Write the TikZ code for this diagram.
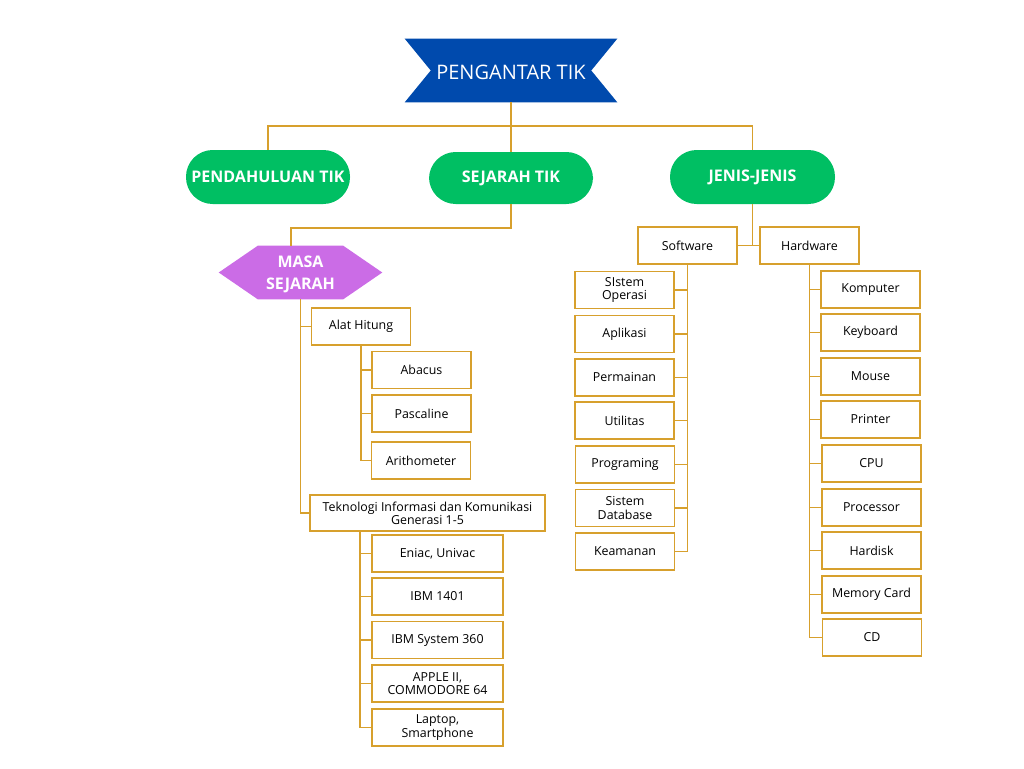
\documentclass[tikz,border=0pt]{standalone}
\usepackage{fontspec}
\setmainfont{Open Sans}
\usetikzlibrary{calc}
\definecolor{gold}{RGB}{215,160,45}
\definecolor{ttlblue}{RGB}{0,74,173}
\definecolor{pillgreen}{RGB}{0,191,99}
\definecolor{hexpurple}{RGB}{203,108,230}
\tikzset{
  conn/.style={draw=gold, line width=1.1pt},
  box/.style={draw=gold, line width=1.1pt, fill=white, rectangle, inner sep=1pt,
    minimum width=99*0.75pt, minimum height=37*0.75pt, align=center,
    font=\fontsize{9.3}{10}\selectfont},
  pill/.style={fill=pillgreen, rectangle, rounded corners=20pt, text=white,
    minimum width=164*0.75pt, minimum height=54*0.75pt,
    font=\fontsize{12}{14}\selectfont\bfseries},
}
\begin{document}
\begin{tikzpicture}[x=0.75pt,y=-0.75pt]
\useasboundingbox (0,0) rectangle (1024,768);
% title
\node[minimum width=212*0.75pt, minimum height=63*0.75pt, inner sep=0pt] (title) at (511,70.5) {};
\fill[ttlblue] (title.north west) -- (title.north east) -- ($(title.east)+(-26,0)$) -- (title.south east) -- (title.south west) -- ($(title.west)+(26,0)$) -- cycle;
\node[text=white, font=\fontsize{15}{17}\selectfont] (titletext) at (511,72) {PENGANTAR TIK};
% pills
\node[pill] (pend) at (268,177) {PENDAHULUAN TIK};
\node[pill, minimum height=52*0.75pt] (sej) at (511,178) {SEJARAH TIK};
\node[pill, minimum width=165*0.75pt] (jenis) at (752.5,177) {JENIS-JENIS};
\coordinate (hub) at (511,126);
\draw[conn] (title.south) -- (hub);
\draw[conn] (hub) -| (pend.north);
\draw[conn] (hub) -| (jenis.north);
\draw[conn] (hub) -- (sej.north);
% masa sejarah
\node[minimum width=163*0.75pt, minimum height=53*0.75pt, inner sep=0pt] (masa) at (300.5,272.5) {};
\fill[hexpurple] (masa.west) -- ($(masa.north west)+(39,0)$) -- ($(masa.north east)+(-39,0)$) -- (masa.east) -- ($(masa.south east)+(-39,0)$) -- ($(masa.south west)+(39,0)$) -- cycle;
\node[text=white, align=center, font=\fontsize{12}{16.5}\selectfont\bfseries] (masatext) at (300.5,274) {MASA\\SEJARAH};
\coordinate (mj) at (291,228);
\draw[conn] (sej.south) |- (mj) -- (mj |- masa.north);
% alat hitung
\node[box] (alat) at (361,326.5) {Alat Hitung};
\node[box] (abacus) at (421.5,370) {Abacus};
\node[box] (pascal) at (421.5,413.5) {Pascaline};
\node[box] (arith) at (421,460.5) {Arithometer};
\node[box, minimum width=235*0.75pt, minimum height=36*0.75pt] (tik) at (427.5,513) {Teknologi Informasi dan Komunikasi\\Generasi 1-5};
\draw[conn] (masa.south) |- (alat.west);
\draw[conn] (masa.south) |- (tik.west);
\draw[conn] (alat.south) |- (abacus.west);
\draw[conn] (alat.south) |- (pascal.west);
\draw[conn] (alat.south) |- (arith.west);
\node[box, minimum width=131*0.75pt] (eniac) at (437.5,553.5) {Eniac, Univac};
\node[box, minimum width=131*0.75pt] (ibm1) at (437.5,596.5) {IBM 1401};
\node[box, minimum width=131*0.75pt] (ibm3) at (437.5,640) {IBM System 360};
\node[box, minimum width=131*0.75pt] (apple) at (437.5,683.5) {APPLE II,\\COMMODORE 64};
\node[box, minimum width=131*0.75pt] (laptop) at (437.5,727.5) {Laptop,\\Smartphone};
\coordinate (tkx) at (360,0);
\draw[conn] (tik.south -| tkx) |- (eniac.west);
\draw[conn] (tik.south -| tkx) |- (ibm1.west);
\draw[conn] (tik.south -| tkx) |- (ibm3.west);
\draw[conn] (tik.south -| tkx) |- (apple.west);
\draw[conn] (tik.south -| tkx) |- (laptop.west);
% software / hardware
\node[box] (sw) at (687.5,245.5) {Software};
\node[box] (hw) at (809.5,245.5) {Hardware};
\draw[conn] (jenis.south) -- (jenis.south |- sw.east);
\draw[conn] (sw.east) -- (hw.west);
\node[box] (so) at (624.5,290) {SIstem\\Operasi};
\node[box] (apl) at (624.5,334) {Aplikasi};
\node[box] (perm) at (624.5,377.5) {Permainan};
\node[box] (util) at (624.5,420.5) {Utilitas};
\node[box] (prog) at (625,464.5) {Programing};
\node[box] (sdb) at (625,508) {Sistem\\Database};
\node[box] (keam) at (625,551.5) {Keamanan};
\foreach \n in {so,apl,perm,util,prog,sdb,keam}{\draw[conn] (sw.south) |- (\n.east);}
\node[box] (komp) at (870.5,289.5) {Komputer};
\node[box] (keyb) at (870.5,332.5) {Keyboard};
\node[box] (mouse) at (870.5,376.5) {Mouse};
\node[box] (print) at (870.5,419.5) {Printer};
\node[box] (cpu) at (871.5,463.5) {CPU};
\node[box] (proc) at (871.5,507.5) {Processor};
\node[box] (hdd) at (871.5,550.5) {Hardisk};
\node[box] (mem) at (871.5,594.5) {Memory Card};
\node[box] (cd) at (872,637.5) {CD};
\foreach \n in {komp,keyb,mouse,print,cpu,proc,hdd,mem,cd}{\draw[conn] (hw.south) |- (\n.west);}
\end{tikzpicture}
\end{document}
